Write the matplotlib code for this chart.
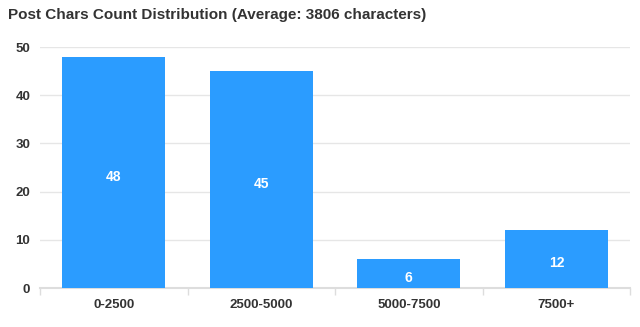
import matplotlib.pyplot as plt
import numpy as np

# Post length buckets and how many posts fall into each
categories = ["0-2500", "2500-5000", "5000-7500", "7500+"]
counts = [48, 45, 6, 12]
average_chars = 3806

plt.rcParams["font.family"] = ["Liberation Sans", "DejaVu Sans"]

fig = plt.figure(figsize=(6.4, 3.27), dpi=100)
ax = fig.add_axes([0.0625, 0.119, 0.922, 0.737])

x = np.arange(len(categories))
bars = ax.bar(x, counts, width=0.7, color="#2b9cff", zorder=3)

# Value labels in the middle of each bar
for rect, val in zip(bars, counts):
    ax.annotate(str(val), (rect.get_x() + rect.get_width() / 2, val / 2),
                xytext=(0, -3), textcoords="offset points",
                ha="center", va="center", color="white", fontsize=10,
                fontweight="bold", zorder=4)

ax.set_xlim(-0.5, len(categories) - 0.5)
ax.set_ylim(0, 50)
ax.set_yticks([0, 10, 20, 30, 40, 50])
ax.set_xticks(x)
ax.set_xticklabels(categories)

# Tick marks sit on the category boundaries
ax.set_xticks(np.arange(len(categories) + 1) - 0.5, minor=True)
ax.tick_params(axis="x", which="major", length=0, pad=8)
ax.tick_params(axis="x", which="minor", length=5, color="#dddddd", width=1)
ax.tick_params(axis="y", length=0, pad=7)
for lbl in ax.get_xticklabels() + ax.get_yticklabels():
    lbl.set_fontweight("bold")
    lbl.set_fontsize(9.5)
    lbl.set_color("#333333")

ax.grid(axis="y", color="#e6e6e6", linewidth=1, zorder=0)
for side in ["top", "right", "left"]:
    ax.spines[side].set_visible(False)
ax.spines["bottom"].set_color("#dddddd")
ax.spines["bottom"].set_linewidth(1.5)

fig.text(0.0125, 0.955, f"Post Chars Count Distribution (Average: {average_chars} characters)",
         ha="left", va="center", fontsize=11, fontweight="bold", color="#333333")

fig.savefig("out.png", dpi=100)
